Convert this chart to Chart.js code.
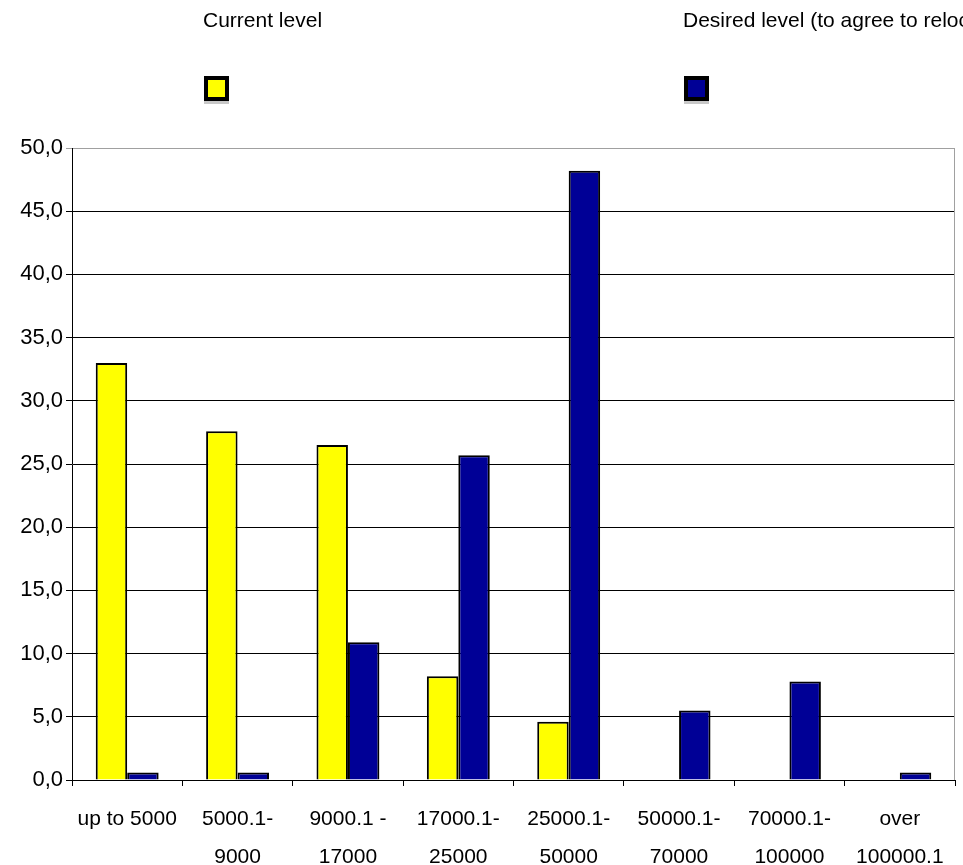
<!DOCTYPE html>
<html>
<head>
<meta charset="utf-8">
<script src="https://cdn.jsdelivr.net/npm/chart.js@4.4.1/dist/chart.umd.min.js"></script>
<style>
html, body { margin: 0; padding: 0; background: #fff; overflow: hidden; }
#wrap { width: 963px; height: 865px; }
</style>
</head>
<body>
<div id="wrap"><canvas id="chart-bars"></canvas></div>
<script>
var categories = [
    ["up to 5000", ""],
    ["5000.1-", "9000"],
    ["9000.1 -", "17000"],
    ["17000.1-", "25000"],
    ["25000.1-", "50000"],
    ["50000.1-", "70000"],
    ["70000.1-", "100000"],
    ["over", "100000.1"]
];
var currentLevel = [33.0, 27.6, 26.5, 8.2, 4.6, null, null, null];
var desiredLevel = [0.6, 0.6, 10.9, 25.7, 48.2, 5.5, 7.8, 0.6];
var yTickValues = [0, 5, 10, 15, 20, 25, 30, 35, 40, 45, 50];

Chart.defaults.font.family = "'Liberation Sans', Arial, sans-serif";
Chart.defaults.font.size = 21;
Chart.defaults.color = "#000";

/* legend: label text on top row, colour box below it */
var topLegend = {
    id: "topLegend",
    afterDraw: function(chart, args, opts) {
        var ctx = chart.ctx;
        ctx.save();
        chart.data.datasets.forEach(function(ds, i) {
            var x = opts.xs[i];
            ctx.fillStyle = "#000";
            ctx.font = "21px 'Liberation Sans', Arial, sans-serif";
            ctx.textBaseline = "middle";
            ctx.textAlign = "left";
            ctx.fillText(ds.label, x - 1, 21);
            ctx.fillStyle = "#000";
            ctx.fillRect(x, 76, 25, 25);
            ctx.fillStyle = ds.backgroundColor;
            ctx.fillRect(x + 4, 80, 17, 17);
            ctx.fillStyle = "#c8c8c8";
            ctx.fillRect(x, 101, 25, 3);
        });
        // grey right border of the plot
        var a = chart.chartArea;
        ctx.strokeStyle = "#a0a0a0";
        ctx.lineWidth = 1;
        ctx.beginPath();
        ctx.moveTo(a.right - 0.5, a.top);
        ctx.lineTo(a.right - 0.5, a.bottom);
        ctx.stroke();
        ctx.restore();
    }
};

var myBarChart = new Chart(document.getElementById("chart-bars"), {
    type: "bar",
    data: {
        labels: categories,
        datasets: [{
            label: "Current level",
            data: currentLevel,
            backgroundColor: "#ffff00",
            borderColor: "#000",
            borderWidth: { top: 2, left: 2, right: 2, bottom: 0 }
        }, {
            label: "Desired level (to agree to relocate)",
            data: desiredLevel,
            backgroundColor: "#000096",
            borderColor: "#000",
            borderWidth: { top: 2, left: 2, right: 2, bottom: 0 }
        }]
    },
    options: {
        responsive: true,
        maintainAspectRatio: false,
        animation: false,
        layout: { padding: { top: 148, right: 8, left: 0, bottom: 0 } },
        datasets: { bar: { categoryPercentage: 0.57, barPercentage: 1.0 } },
        plugins: {
            legend: { display: false },
            tooltip: { enabled: false },
            topLegend: { xs: [204, 684] }
        },
        scales: {
            x: {
                afterFit: function(scale) { scale.height = 85; },
                grid: { offset: true, drawOnChartArea: false, drawTicks: true, tickLength: 6, color: "#000" },
                border: { display: true, color: "#000", width: 1 },
                ticks: {
                    padding: 14,
                    maxRotation: 0,
                    autoSkip: false,
                    font: { size: 21, lineHeight: "38px" }
                }
            },
            y: {
                min: 0,
                max: 50,
                afterFit: function(scale) { scale.width = 72; },
                afterBuildTicks: function(scale) {
                    scale.ticks = yTickValues.map(function(v) { return { value: v }; });
                },
                grid: {
                    tickLength: 6,
                    color: function(c) { return c.tick && c.tick.value === 50 ? "#a0a0a0" : "#000"; }
                },
                border: { display: true, color: "#000", width: 1 },
                ticks: {
                    padding: 3,
                    font: { size: 22 },
                    callback: function(v) { return Number(v).toFixed(1).replace(".", ","); }
                }
            }
        }
    },
    plugins: [topLegend]
});
</script>
</body>
</html>
